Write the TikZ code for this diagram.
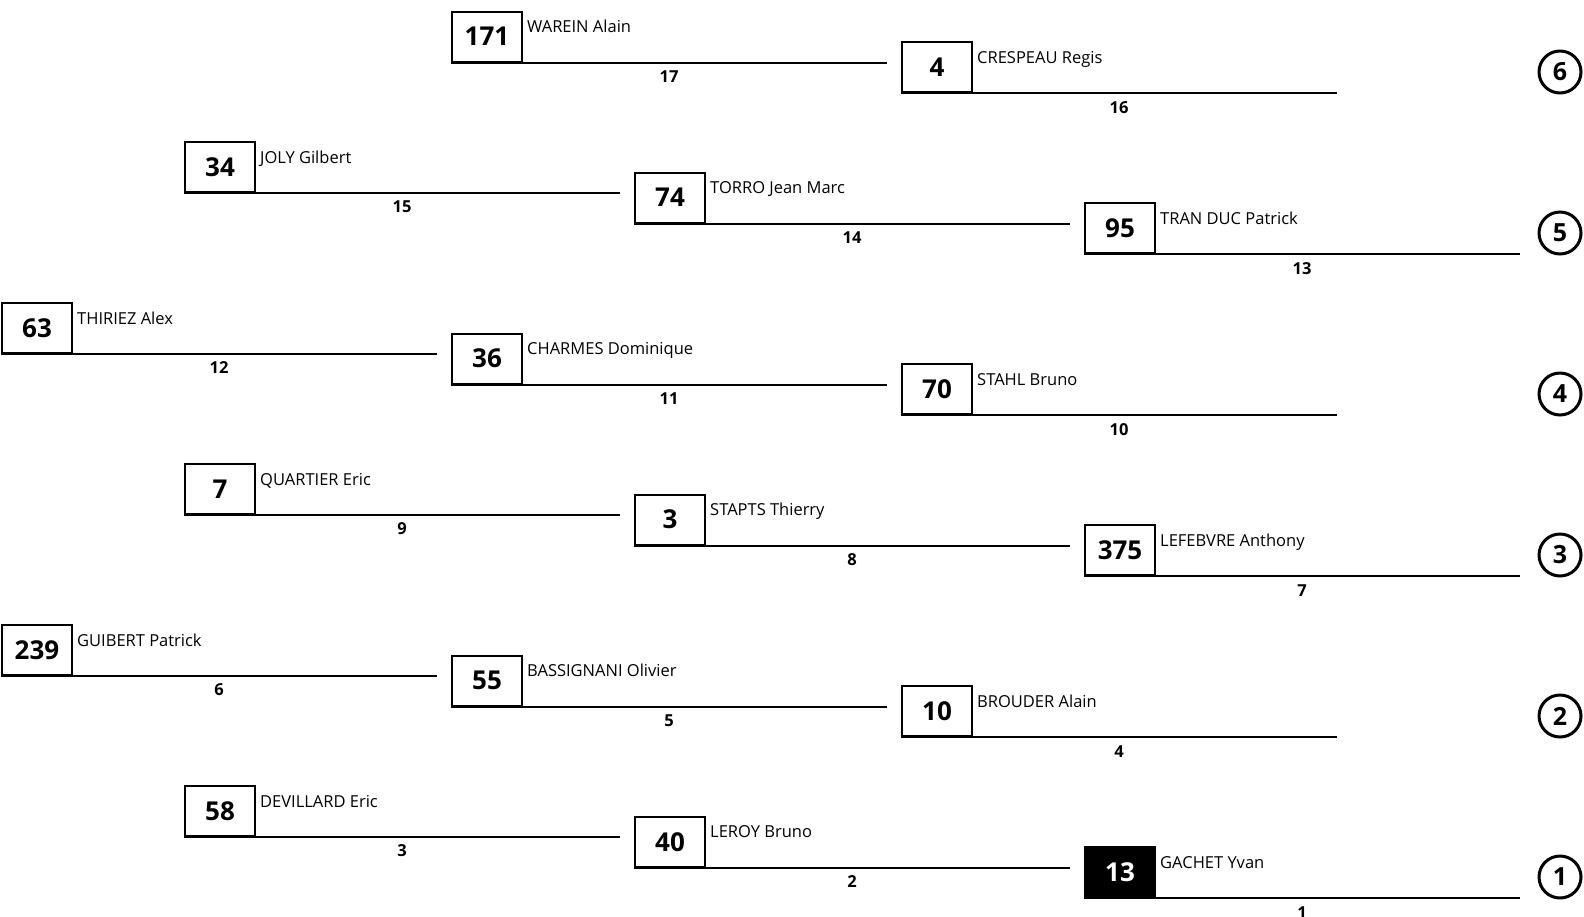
\documentclass[tikz,border=0pt]{standalone}
\usepackage{fontspec}
\setmainfont{Open Sans}
\begin{document}
\begin{tikzpicture}[x=1pt,y=-1pt, every node/.style={inner sep=0pt},
  seed/.style={draw,line width=2pt,minimum width=70pt,minimum height=50pt,anchor=south west,font=\fontsize{26}{30}\selectfont\bfseries},
  player/.style={anchor=base west,font=\fontsize{16.5}{20}\selectfont},
  match/.style={font=\fontsize{16.5}{20}\selectfont\bfseries},
  rank/.style={draw,circle,line width=3pt,minimum size=42pt,font=\fontsize{25}{30}\selectfont\bfseries},
  rail/.style={line width=2pt}]
\useasboundingbox (0,0) rectangle (1584,916);
% row 6
\node[seed] (b17) at (451,62.7) {171}; \node[player] (n17) at (527,32.7) {WAREIN Alain};
\coordinate (e17) at (887,62.7); \draw[rail] (b17.south west) -- (e17) node[match,midway,below=7pt] (m17) {17};
\node[seed] (b16) at (901,93.4) {4}; \node[player] (n16) at (977,63.4) {CRESPEAU Regis};
\coordinate (e16) at (1337,93.4); \draw[rail] (b16.south west) -- (e16) node[match,midway,below=7pt] (m16) {16};
% row 5
\node[seed] (b15) at (184,193) {34}; \node[player] (n15) at (260,163) {JOLY Gilbert};
\coordinate (e15) at (620,193); \draw[rail] (b15.south west) -- (e15) node[match,midway,below=7pt] (m15) {15};
\node[seed] (b14) at (634,223.7) {74}; \node[player] (n14) at (710,193.7) {TORRO Jean Marc};
\coordinate (e14) at (1070,223.7); \draw[rail] (b14.south west) -- (e14) node[match,midway,below=7pt] (m14) {14};
\node[seed] (b13) at (1084,254.4) {95}; \node[player] (n13) at (1160,224.4) {TRAN DUC Patrick};
\coordinate (e13) at (1520,254.4); \draw[rail] (b13.south west) -- (e13) node[match,midway,below=7pt] (m13) {13};
% row 4
\node[seed] (b12) at (1,354) {63}; \node[player] (n12) at (77,324) {THIRIEZ Alex};
\coordinate (e12) at (437,354); \draw[rail] (b12.south west) -- (e12) node[match,midway,below=7pt] (m12) {12};
\node[seed] (b11) at (451,384.7) {36}; \node[player] (n11) at (527,354.7) {CHARMES Dominique};
\coordinate (e11) at (887,384.7); \draw[rail] (b11.south west) -- (e11) node[match,midway,below=7pt] (m11) {11};
\node[seed] (b10) at (901,415.4) {70}; \node[player] (n10) at (977,385.4) {STAHL Bruno};
\coordinate (e10) at (1337,415.4); \draw[rail] (b10.south west) -- (e10) node[match,midway,below=7pt] (m10) {10};
% row 3
\node[seed] (b9) at (184,515) {7}; \node[player] (n9) at (260,485) {QUARTIER Eric};
\coordinate (e9) at (620,515); \draw[rail] (b9.south west) -- (e9) node[match,midway,below=7pt] (m9) {9};
\node[seed] (b8) at (634,545.7) {3}; \node[player] (n8) at (710,515.7) {STAPTS Thierry};
\coordinate (e8) at (1070,545.7); \draw[rail] (b8.south west) -- (e8) node[match,midway,below=7pt] (m8) {8};
\node[seed] (b7) at (1084,576.4) {375}; \node[player] (n7) at (1160,546.4) {LEFEBVRE Anthony};
\coordinate (e7) at (1520,576.4); \draw[rail] (b7.south west) -- (e7) node[match,midway,below=7pt] (m7) {7};
% row 2
\node[seed] (b6) at (1,676) {239}; \node[player] (n6) at (77,646) {GUIBERT Patrick};
\coordinate (e6) at (437,676); \draw[rail] (b6.south west) -- (e6) node[match,midway,below=7pt] (m6) {6};
\node[seed] (b5) at (451,706.7) {55}; \node[player] (n5) at (527,676.7) {BASSIGNANI Olivier};
\coordinate (e5) at (887,706.7); \draw[rail] (b5.south west) -- (e5) node[match,midway,below=7pt] (m5) {5};
\node[seed] (b4) at (901,737.4) {10}; \node[player] (n4) at (977,707.4) {BROUDER Alain};
\coordinate (e4) at (1337,737.4); \draw[rail] (b4.south west) -- (e4) node[match,midway,below=7pt] (m4) {4};
% row 1
\node[seed] (b3) at (184,837) {58}; \node[player] (n3) at (260,807) {DEVILLARD Eric};
\coordinate (e3) at (620,837); \draw[rail] (b3.south west) -- (e3) node[match,midway,below=7pt] (m3) {3};
\node[seed] (b2) at (634,867.7) {40}; \node[player] (n2) at (710,837.7) {LEROY Bruno};
\coordinate (e2) at (1070,867.7); \draw[rail] (b2.south west) -- (e2) node[match,midway,below=7pt] (m2) {2};
\node[seed,fill=black,text=white] (b1) at (1084,898.4) {13}; \node[player] (n1) at (1160,868.4) {GACHET Yvan};
\coordinate (e1) at (1520,898.4); \draw[rail] (b1.south west) -- (e1) node[match,midway,below=7pt] (m1) {1};
% places
\node[rank] (r6) at (1560,72) {6};
\node[rank] (r5) at (1560,233) {5};
\node[rank] (r4) at (1560,394) {4};
\node[rank] (r3) at (1560,555) {3};
\node[rank] (r2) at (1560,716) {2};
\node[rank] (r1) at (1560,877) {1};
\end{tikzpicture}
\end{document}
